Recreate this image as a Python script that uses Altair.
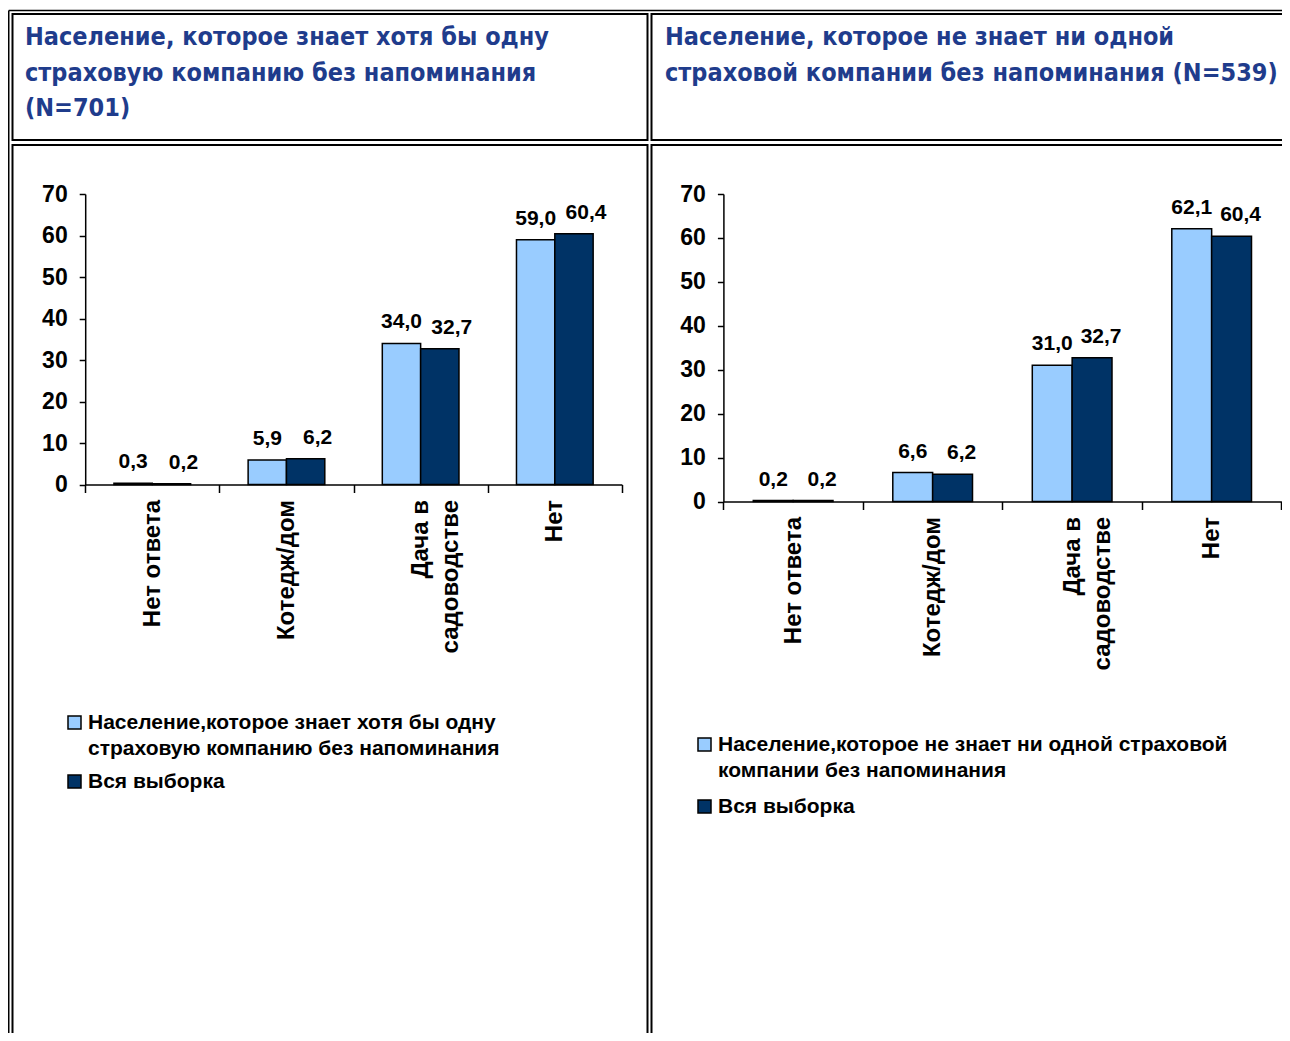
import altair as alt
import pandas as pd

# ---------------- data ----------------
categories = ["Нет ответа", "Котедж/дом", "Дача в\nсадоводстве", "Нет"]
left_series = ["Население,которое знает хотя бы одну\nстраховую компанию без напоминания", "Вся выборка"]
right_series = ["Население,которое не знает ни одной страховой\nкомпании без напоминания", "Вся выборка"]
left_known = [0.3, 5.9, 34.0, 59.0]
left_all = [0.2, 6.2, 32.7, 60.4]
right_unknown = [0.2, 6.6, 31.0, 62.1]
right_all = [0.2, 6.2, 32.7, 60.4]
left_title = ["Население, которое знает хотя бы одну", "страховую компанию без напоминания", "(N=701)"]
right_title = ["Население, которое не знает ни одной", "страховой компании без напоминания (N=539)"]
y_ticks = [0, 10, 20, 30, 40, 50, 60, 70]
series_colors = ["#99CCFF", "#003366"]

TITLE_BLUE = "#1F3C8C"
FONT = "Liberation Sans"
NARROW = "Liberation Sans Narrow, Arial Narrow, DejaVu Sans Condensed, Liberation Sans"

W, H = 1274, 1025


def make_df(series, a, b):
    rows = []
    for c, v in zip(categories, a):
        rows.append({"category": c, "series": series[0], "value": v})
    for c, v in zip(categories, b):
        rows.append({"category": c, "series": series[1], "value": v})
    return pd.DataFrame(rows)


df_left = make_df(left_series, left_known, left_all)
df_right = make_df(right_series, right_unknown, right_all)


def panel(df, series, xr, yr, legend_xy, dark_dx, row_pad):
    base = alt.Chart(df).transform_calculate(
        label="replace(format(datum.value, '.1f'), '.', ',')"
    )
    x_enc = alt.X(
        "category:N",
        sort=categories,
        scale=alt.Scale(domain=categories, range=xr, paddingInner=0, paddingOuter=0),
        axis=alt.Axis(
            title=None,
            orient="bottom",
            offset=yr[0] - H,
            tickBand="extent",
            tickSize=8,
            tickWidth=1.5,
            tickColor="black",
            domainColor="black",
            domainWidth=1.5,
            labelAngle=270,
            labelAlign="right",
            labelBaseline="middle",
            labelPadding=7,
            labelFont=FONT,
            labelFontWeight="bold",
            labelFontSize=24,
            labelColor="black",
            labelLineHeight=30,
            labelLimit=400,
            labelExpr="split(datum.label, '\\n')",
        ),
    )
    xoff = alt.XOffset(
        "series:N",
        sort=series,
        scale=alt.Scale(domain=series, paddingInner=0, paddingOuter=0.75),
    )
    y_enc = alt.Y(
        "value:Q",
        scale=alt.Scale(domain=[0, 70], range=yr, nice=False, zero=True),
        axis=alt.Axis(
            title=None,
            orient="left",
            offset=-xr[0],
            values=y_ticks,
            grid=False,
            tickSize=6,
            tickWidth=1.5,
            tickColor="black",
            domainColor="black",
            domainWidth=1.5,
            labelPadding=12,
            labelFont=FONT,
            labelFontWeight="bold",
            labelFontSize=23,
            labelColor="black",
        ),
    )
    color = alt.Color(
        "series:N",
        sort=series,
        scale=alt.Scale(domain=series, range=series_colors),
        legend=alt.Legend(
            title=None,
            orient="none",
            legendX=legend_xy[0],
            legendY=legend_xy[1],
            symbolType="square",
            symbolSize=169,
            symbolStrokeColor="black",
            symbolStrokeWidth=1.5,
            symbolOpacity=1,
            labelFont=FONT,
            labelFontWeight="bold",
            labelFontSize=21,
            labelColor="black",
            labelLimit=700,
            labelOffset=3,
            rowPadding=row_pad,
            labelExpr="split(datum.label, '\\n')",
        ),
    )
    bars = base.mark_bar(stroke="black", strokeWidth=1.5).encode(
        x=x_enc, xOffset=xoff, y=y_enc, color=color
    )
    label_common = dict(font=FONT, fontWeight="bold", fontSize=21, color="black", baseline="alphabetic", dy=-15)
    light = base.transform_filter(alt.datum.series == series[0]).mark_text(**label_common).encode(
        x=x_enc, xOffset=xoff, y=y_enc, text=alt.Text("label:N")
    )
    dark = base.transform_filter(alt.datum.series == series[1]).mark_text(dx=dark_dx, **label_common).encode(
        x=x_enc, xOffset=xoff, y=y_enc, text=alt.Text("label:N")
    )
    return alt.layer(bars, light, dark)


one = alt.Data(values=[{}])


def frame_rect(x, x2, y, y2, sw=2):
    return alt.Chart(one).mark_rect(fill=None, filled=False, stroke="black", strokeWidth=sw).encode(
        x=alt.value(x), x2=alt.value(x2), y=alt.value(y), y2=alt.value(y2)
    )


def frame_rule(x, x2, y, y2, sw=1.5):
    return alt.Chart(one).mark_rule(color="black", strokeWidth=sw).encode(
        x=alt.value(x), x2=alt.value(x2), y=alt.value(y), y2=alt.value(y2)
    )


borders = [
    frame_rule(0.75, 0.75, 2.5, H + 10),
    frame_rule(0.75, W + 10, 2.5, 2.5),
    frame_rect(4.5, 639.5, 6, 132),
    frame_rect(643.5, W + 20, 6, 132),
    frame_rect(4.5, 639.5, 137, H + 20),
    frame_rect(643.5, W + 20, 137, H + 20),
]


def header(lines, x):
    return alt.Chart(one).mark_text(
        font=NARROW, fontWeight="bold", fontSize=25, color=TITLE_BLUE,
        align="left", baseline="alphabetic", lineHeight=35.5,
    ).encode(x=alt.value(x), y=alt.value(37), text=alt.value(lines))


layers = borders + [header(left_title, 17), header(right_title, 657)]
layers.append(panel(df_left, left_series, [77.2, 613.9], [476.5, 186], (56, 704), 12, 11))
layers.append(panel(df_right, right_series, [715.4, 1273.4], [493.5, 186], (686, 726), 9, 14))

chart = (
    alt.layer(*layers)
    .resolve_scale(x="independent", y="independent", xOffset="independent", color="independent")
    .resolve_axis(x="independent", y="independent")
    .resolve_legend(color="independent")
    .properties(width=W, height=H, autosize=alt.AutoSizeParams(type="none"), padding=0)
    .configure(style={"guide-label": {"lineHeight": 26}})
    .configure_view(strokeWidth=0)
)

chart.save("out.html", embed_options={"renderer": "svg", "actions": False})
